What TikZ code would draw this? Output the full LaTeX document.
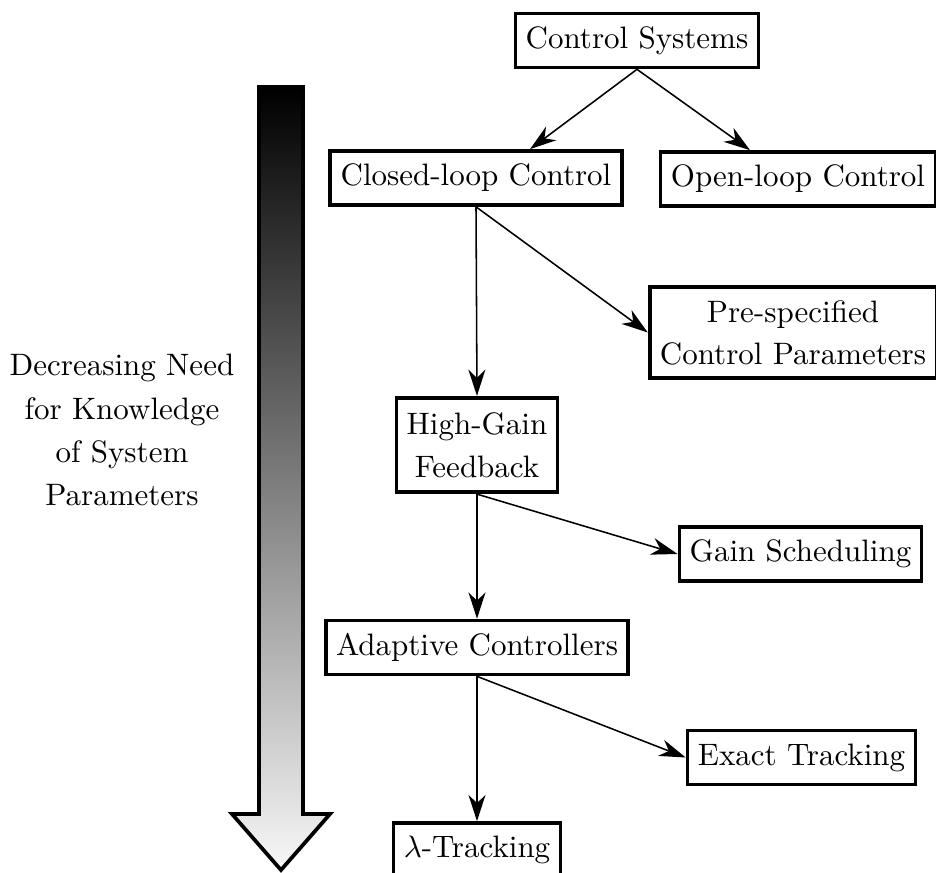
\documentclass[tikz,border=0pt]{standalone}
\usetikzlibrary{arrows.meta,calc}
\begin{document}
\begin{tikzpicture}[x=0.3226pt,y=-0.3226pt,
  box/.style={draw, very thick, align=center, minimum height=17.4pt, font=\fontsize{10}{13.5}\selectfont},
  conn/.style={-{Stealth[length=8.5pt,width=5.5pt,inset=2.7pt]}, line width=0.5pt}]
\useasboundingbox (0,0) rectangle (936,873);
% big shaded arrow
\shade[top color=black, bottom color=gray!6, draw=black, very thick, line join=miter]
  (259,87) -- (303,87) -- (303,814) -- (330,814) -- (281,870) -- (232,814) -- (259,814) -- cycle;
\node[align=center, font=\fontsize{10}{13.9}\selectfont] (lbl) at (122,430)
  {Decreasing Need\\for Knowledge\\of System\\Parameters};
% boxes
\node[box] (cs) at (637,40.5) {Control Systems};
\node[box] (cl) at (476,178) {Closed-loop Control};
\node[box] (ol) at (798,179) {Open-loop Control};
\node[box, minimum height=29.5pt] (pre) at (793,332.5) {Pre-specified\\Control Parameters};
\node[box, minimum height=30.5pt, font=\fontsize{10}{14}\selectfont] (hg) at (477,445) {High-Gain\\Feedback};
\node[box] (gs) at (800.5,554) {Gain Scheduling};
\node[box] (ac) at (477,647.5) {Adaptive Controllers};
\node[box] (et) at (801.5,757.5) {Exact Tracking};
\node[box] (lt) at (477,850) {$\lambda$-Tracking};
% connectors
\draw[conn] (cs.south) -- ($(cl.north)+(54,0)$);
\draw[conn] (cs.south) -- ($(ol.north)+(-48,0)$);
\draw[conn] (cl.south) -- (pre.west);
\draw[conn] (cl.south) -- (hg.north);
\draw[conn] (hg.south) -- (gs.west);
\draw[conn] (hg.south) -- (ac.north);
\draw[conn] (ac.south) -- (et.west);
\draw[conn] (ac.south) -- (lt.north);
\end{tikzpicture}
\end{document}
